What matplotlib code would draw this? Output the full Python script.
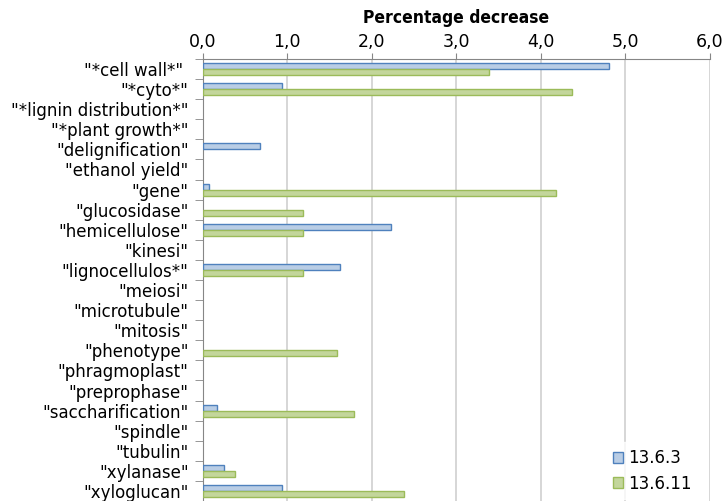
import numpy as np
import matplotlib.pyplot as plt

plt.rcParams['font.family'] = ['DejaVu Sans']

categories = ['"*cell wall*" ', '"*cyto*"', '"*lignin distribution*"', '"*plant growth*"',
              '"delignification"', '"ethanol yield"', '"gene"', '"glucosidase"',
              '"hemicellulose"', '"kinesi"', '"lignocellulos*"', '"meiosi"',
              '"microtubule"', '"mitosis"', '"phenotype"', '"phragmoplast"',
              '"preprophase"', '"saccharification"', '"spindle"', '"tubulin"',
              '"xylanase"', '"xyloglucan"']
series_a = [4.81, 0.94, None, None, 0.68, None, 0.08, None, 2.23, None, 1.63, None,
            None, None, None, None, None, 0.17, None, None, 0.25, 0.94]
series_b = [3.39, 4.37, None, None, None, None, 4.18, 1.19, 1.19, None, 1.19, None,
            None, None, 1.59, None, None, 1.79, None, None, 0.39, 2.38]
xticks = [0, 1, 2, 3, 4, 5, 6]
xtick_labels = ['0,0', '1,0', '2,0', '3,0', '4,0', '5,0', '6,0']


def main():
    fig = plt.figure(figsize=(7.27, 5.01), dpi=100)
    ax = fig.add_axes([202.5 / 727, 0.0, 507 / 727, 442 / 501])

    y = np.arange(len(categories))
    h = 0.3
    a = np.array([np.nan if v is None else v for v in series_a])
    b = np.array([np.nan if v is None else v for v in series_b])
    ma = ~np.isnan(a)
    mb = ~np.isnan(b)
    ax.barh(y[ma] - h / 2, a[ma], height=h, color='#B9CDE5', edgecolor='#4F81BD',
            linewidth=1.0, label='13.6.3', zorder=3)
    ax.barh(y[mb] + h / 2, b[mb], height=h, color='#C3D69B', edgecolor='#9BBB59',
            linewidth=1.0, label='13.6.11', zorder=3)

    ax.set_ylim(len(categories) - 0.5, -0.5)
    ax.set_xlim(0, 6)
    ax.set_yticks(y)
    ax.set_yticklabels(categories, fontsize=12)
    ax.set_yticks(np.arange(len(categories) + 1) - 0.5, minor=True)
    ax.tick_params(axis='y', which='major', length=0, pad=10)
    ax.tick_params(axis='y', which='minor', length=6, color='#868686', direction='out')

    ax.xaxis.tick_top()
    ax.xaxis.set_label_position('top')
    ax.set_xticks(xticks)
    ax.set_xticklabels(xtick_labels, fontsize=12.5)
    ax.tick_params(axis='x', length=4, color='#868686', pad=2)
    ax.set_xlabel('Percentage decrease', fontsize=12.5, fontweight='bold',
                  fontstretch='condensed', labelpad=7)

    ax.grid(axis='x', color='#D0D0D0', linewidth=1.2, zorder=0)
    ax.set_axisbelow(True)
    for s in ['right', 'bottom']:
        ax.spines[s].set_visible(False)
    ax.spines['left'].set_color('#868686')
    ax.spines['top'].set_color('#868686')

    ax.legend(loc='lower right', bbox_to_anchor=(0.994, -0.015), frameon=True, edgecolor='white',
              fancybox=False, fontsize=12, handlelength=0.6, handleheight=0.6,
              handletextpad=0.3, borderpad=0.4, labelspacing=0.45)

    fig.savefig('out.png', dpi=100)


if __name__ == '__main__':
    main()
